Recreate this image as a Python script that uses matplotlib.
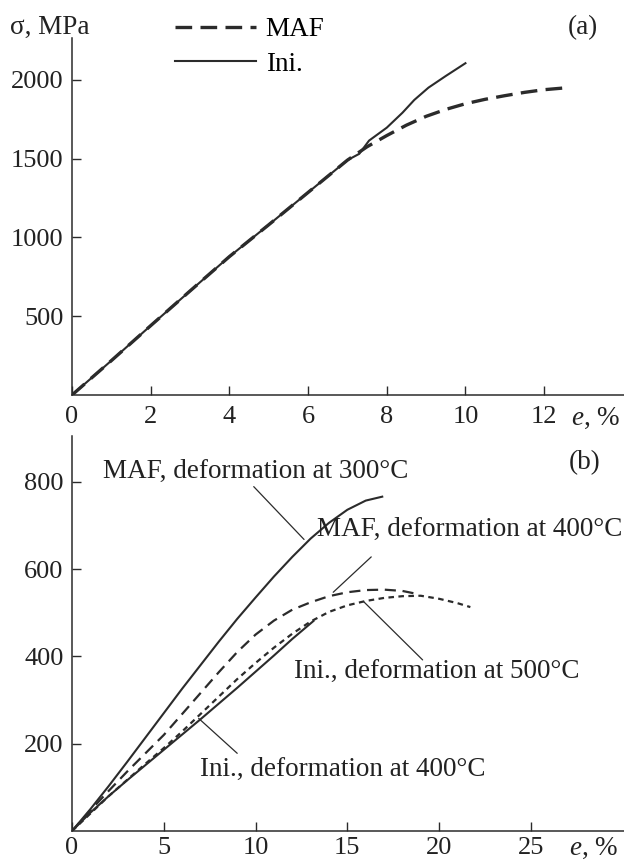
import matplotlib
matplotlib.use("Agg")
import matplotlib.pyplot as plt

plt.rcParams["font.family"] = ["Liberation Serif", "DejaVu Serif"]
plt.rcParams["mathtext.fontset"] = "custom"
plt.rcParams["mathtext.it"] = "Liberation Serif:italic"
plt.rcParams["mathtext.rm"] = "Liberation Serif"

# (a) room temperature curves
maf_a_x = [0, 1, 2, 3, 4, 5, 6, 7, 7.5, 8, 8.5, 9, 9.5, 10, 10.5, 11, 11.5, 12, 12.6]
maf_a_y = [0, 218, 440, 660, 878, 1080, 1285, 1490, 1575, 1646, 1712, 1768, 1812, 1848, 1876, 1899, 1920, 1937, 1950]
ini_a_x = [0, 1, 2, 3, 4, 5, 6, 7, 7.3, 7.55, 8.0, 8.4, 8.7, 9.06, 9.5, 10.0]
ini_a_y = [0, 218, 440, 660, 878, 1080, 1285, 1490, 1530, 1614, 1696, 1791, 1872, 1950, 2024, 2105]

# (b) elevated temperature curves
maf300_x = [0, 1, 2, 3, 4, 5, 6, 7, 8, 9, 10, 11, 12, 13, 14, 15, 16, 16.9]
maf300_y = [0, 50, 103, 158, 214, 270, 326, 380, 434, 486, 535, 583, 628, 670, 706, 736, 757, 766]
maf400_x = [0, 1, 2, 3, 4, 5, 6, 7, 8, 9, 10, 11, 12, 13, 14, 15, 16, 17, 18, 18.7]
maf400_y = [0, 47, 92, 136, 178, 220, 268, 316, 364, 410, 450, 482, 507, 524, 538, 547, 552, 553, 550, 544]
ini500_x = [0, 1, 2, 3, 4, 5, 6, 7, 8, 9, 10, 11, 12, 13, 14, 15, 16, 17, 18, 19, 20, 21, 21.7]
ini500_y = [0, 40, 80, 117, 154, 190, 228, 268, 308, 348, 385, 420, 452, 480, 502, 517, 527, 534, 538, 539, 532, 522, 513]
ini400_x = [0, 1, 2, 3, 4, 5, 6, 7, 8, 9, 10, 11, 12, 13.15]
ini400_y = [0, 42, 80, 116, 151, 186, 221, 256, 292, 328, 365, 402, 440, 481]

labels_b = ["MAF, deformation at 300°C", "MAF, deformation at 400°C",
            "Ini., deformation at 500°C", "Ini., deformation at 400°C"]
label_pos = [(1.69, 824), (13.35, 690), (12.09, 365), (6.97, 140)]
leader_from = [(9.9, 789), (16.3, 628), (19.1, 392), (9.0, 178)]
leader_to = [(12.64, 668), (14.23, 547), (15.9, 525), (6.9, 258)]

W, H = 624, 863
fs = 19
fs_txt = 19.5
col = "#2b2b2b"
tcol = "#222222"

fig = plt.figure(figsize=(W / 100, H / 100), dpi=100)
ax1 = fig.add_axes([72 / W, 1 - 395 / H, 552 / W, (395 - 38) / H])
ax2 = fig.add_axes([72 / W, 1 - 831 / H, 552 / W, (831 - 436) / H])

for ax in (ax1, ax2):
    for s in ("top", "right"):
        ax.spines[s].set_visible(False)
    for s in ("left", "bottom"):
        ax.spines[s].set_linewidth(1.1)
        ax.spines[s].set_color(col)
    ax.tick_params(direction="in", length=6.5, width=1.0, color=col,
                   labelsize=fs, labelcolor=tcol)
    ax.tick_params(axis="y", pad=6)
ax1.tick_params(axis="x", pad=8)
ax2.tick_params(axis="x", pad=4)

# panel (a)
ax1.plot(maf_a_x, maf_a_y, color=col, lw=2.4, ls=(0, (5, 2.5)), label="MAF")
ax1.plot(ini_a_x, ini_a_y, color=col, lw=1.5, label="Ini.")
ax1.set_xlim(0, 14.03)
ax1.set_ylim(0, 2265)
ax1.set_xticks([0, 2, 4, 6, 8, 10, 12])
ax1.set_yticks([500, 1000, 1500, 2000])
ax1.legend(loc="center left", bbox_to_anchor=(175 / W, 1 - 47 / H),
           bbox_transform=fig.transFigure, frameon=False, fontsize=fs_txt,
           handlelength=3.0, handletextpad=0.35, labelspacing=0.35,
           borderaxespad=0, borderpad=0)

# panel (b)
ax2.plot(maf300_x, maf300_y, color=col, lw=1.5)
ax2.plot(maf400_x, maf400_y, color=col, lw=1.6, ls=(0, (5, 3)))
ax2.plot(ini500_x, ini500_y, color=col, lw=1.6, ls=(0, (2.5, 2)))
ax2.plot(ini400_x, ini400_y, color=col, lw=1.5)
ax2.set_xlim(0, 30.07)
ax2.set_ylim(0, 905)
ax2.set_xticks([0, 5, 10, 15, 20, 25])
ax2.set_yticks([200, 400, 600, 800])

for lab, pos, p0, p1 in zip(labels_b, label_pos, leader_from, leader_to):
    ax2.text(pos[0], pos[1], lab, fontsize=fs_txt, ha="left", va="center", color=tcol)
    ax2.annotate("", xy=p1, xytext=p0,
                 arrowprops=dict(arrowstyle="-", lw=0.9, color=col,
                                 shrinkA=0, shrinkB=0))

# axis captions
fig.text(10 / W, 1 - 27 / H, "σ, MPa", fontsize=fs_txt, ha="left", va="center", color=tcol)
fig.text(598 / W, 1 - 28 / H, "(a)", fontsize=fs_txt, ha="right", va="center", color=tcol)
fig.text(600 / W, 1 - 463 / H, "(b)", fontsize=fs_txt, ha="right", va="center", color=tcol)
fig.text(620 / W, 1 - 418 / H, r"$\mathit{e}$, %", fontsize=fs_txt, ha="right", va="center", color=tcol)
fig.text(618 / W, 1 - 848 / H, r"$\mathit{e}$, %", fontsize=fs_txt, ha="right", va="center", color=tcol)

fig.savefig("out.png", dpi=100)
